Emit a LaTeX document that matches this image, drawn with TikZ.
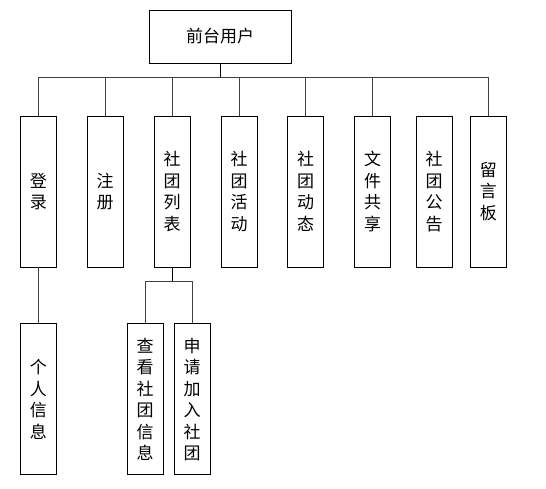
\documentclass[tikz,border=0pt]{standalone}
\usepackage{fontspec}
\setmainfont{Noto Sans CJK SC}
\usepackage{tikz}
\usetikzlibrary{positioning}

\begin{document}
\begin{tikzpicture}[
        x=1pt, y=-1pt,
        rootbox/.style={
            rectangle,
            draw=black,
            line width=0.8pt,
            minimum width=142pt,
            minimum height=53pt,
            align=center,
            font=\fontsize{17}{21.5}\selectfont
        },
        itembox/.style={
            rectangle,
            draw=black,
            line width=0.8pt,
            minimum width=36pt,
            minimum height=151pt,
            inner sep=0pt,
            text width=36pt,
            align=center,
            font=\fontsize{17}{21.5}\selectfont
        },
        link/.style={line width=0.8pt, draw=black!75}
    ]

    \useasboundingbox (0,0) rectangle (546,489);

    \node (root) [rootbox] at (220,36.5) {前台用户};

    \node (login)  [itembox] at (38.3,191.5)  {登\\录};
    \node (reg)    [itembox] at (105,191.5)   {注\\册};
    \node (list)   [itembox] at (172,191.5)   {社\\团\\列\\表};
    \node (event)  [itembox] at (239,191.5)   {社\\团\\活\\动};
    \node (news)   [itembox] at (305.7,191.5) {社\\团\\动\\态};
    \node (files)  [itembox] at (372.5,191.5) {文\\件\\共\\享};
    \node (notice) [itembox] at (434,191.5)   {社\\团\\公\\告};
    \node (board)  [itembox] at (488.3,191.5) {留\\言\\板};

    \node (info)  [itembox, below=56pt of login] {个\\人\\信\\息};
    \node (view)  [itembox, below=56pt of list, xshift=-27pt] {查\\看\\社\\团\\信\\息};
    \node (apply) [itembox, right=10.4pt of view] {申\\请\\加\\入\\社\\团};

    \coordinate (bus) at (220,77);
    \coordinate (sub) at (172,281);

    \draw [line width=0.9pt] (root.south) -- (bus);
    \draw [link] (bus) -| (login.north);
    \draw [link] (bus) -| (reg.north);
    \draw [link] (bus) -| (list.north);
    \draw [link] (bus) -| (event.north);
    \draw [link] (bus) -| (news.north);
    \draw [link] (bus) -| (files.north);
    \draw [link] (bus) -| (board.north);

    \draw [link] (login) -- (info);
    \draw [line width=0.9pt] (list.south) -- (sub);
    \draw [link] (sub) -| (view.north);
    \draw [link] (sub) -| (apply.north);

\end{tikzpicture}
\end{document}
